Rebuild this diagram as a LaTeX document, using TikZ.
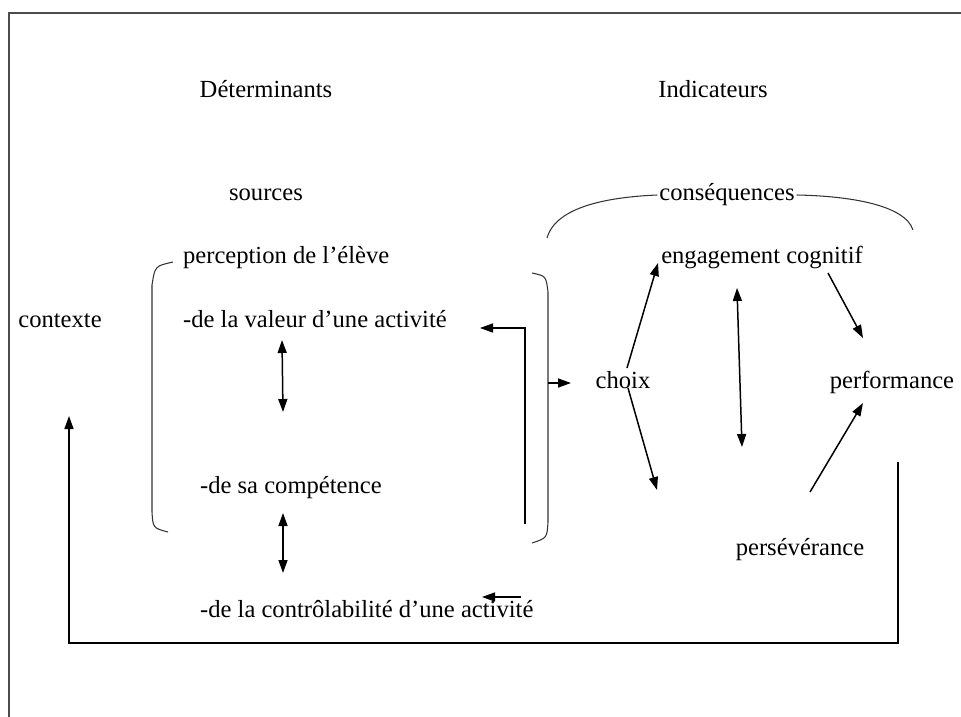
\documentclass[tikz,border=0pt]{standalone}
\usepackage{fontspec}
\setmainfont{Liberation Serif}
\usetikzlibrary{arrows.meta}

\begin{document}
\begin{tikzpicture}[x=0.02cm, y=-0.02cm,
	every node/.style={font=\fontsize{14}{16}\selectfont, inner sep=1pt, text height=1.6ex, text depth=.3ex},
	arr/.style={line width=0.85pt, -{Triangle[length=2.6mm,width=1.8mm]}},
	darr/.style={line width=0.85pt, {Triangle[length=2.6mm,width=1.8mm]}-{Triangle[length=2.6mm,width=1.8mm]}},
	brace/.style={line width=0.6pt, black!80},
	frame/.style={line width=1pt, black!70}]
	\useasboundingbox (0,0) rectangle (961,717);
	\draw[frame] (9,717) -- (9,13) -- (961,13);

	\node (det) at (266,92) {Déterminants};
	\node (ind) at (713,92) {Indicateurs};
	\node (src) at (266,195) {sources};
	\node (csq) at (727,195) {conséquences};

	\node[anchor=west] (perc) at (181,258) {perception de l’élève};
	\node (ctx) at (60,322) {contexte};
	\node[anchor=west] (val) at (181,322) {-de la valeur d’une activité};
	\node[anchor=west] (comp) at (198,488) {-de sa compétence};
	\node[anchor=west] (ctrl) at (198,612) {-de la contrôlabilité d’une activité};

	\node (choix) at (623,383) {choix};
	\node (eng) at (762,258) {engagement cognitif};
	\node (perf) at (892,383) {performance};
	\node (pers) at (800,550) {persévérance};

	% brackets
	\draw[brace] (173,262) .. controls (155,266) .. (152,285) -- (152,512) .. controls (153,528) .. (168,532);
	\draw[brace] (532,273) .. controls (546,276) .. (548,292) -- (548,522) .. controls (547,538) .. (532,543);
	\draw[brace] (547,238) .. controls (556,206) and (610,197) .. (csq.west);
	\draw[brace] (csq.east) .. controls (850,196) and (905,205) .. (913,230);

	% free ends
	\coordinate (v1) at (282,340);
	\coordinate (v2) at (283,412);
	\coordinate (c1) at (283,513);
	\coordinate (c2) at (283,573);
	\coordinate (k1) at (521,597);
	\coordinate (k2) at (482,597);
	\coordinate (r1) at (525,524);
	\coordinate (r2) at (480,328);
	\coordinate (b1) at (548,383);
	\coordinate (b2) at (571,383);
	\coordinate (ch1) at (627,368);
	\coordinate (ch2) at (628,388);
	\coordinate (e1) at (658,263);
	\coordinate (p1) at (657,490);
	\coordinate (m1) at (737,288);
	\coordinate (m2) at (742,447);
	\coordinate (e2) at (828,273);
	\coordinate (f1) at (863,338);
	\coordinate (s1) at (810,492);
	\coordinate (f2) at (863,403);
	\coordinate (fb1) at (898,462);
	\coordinate (fb2) at (69,416);

	\path[darr] (v1) edge (v2);
	\path[darr] (c1) edge (c2);
	\path[arr] (k1) edge (k2);
	\draw[arr] (r1) |- (r2);
	\path[arr] (b1) edge (b2);

	\path[arr] (ch1) edge (e1);
	\path[arr] (ch2) edge (p1);
	\path[darr] (m1) edge (m2);
	\path[arr] (e2) edge (f1);
	\path[arr] (s1) edge (f2);

	\draw[arr] (fb1) -- ++(0,181) -| (fb2);

\end{tikzpicture}
\end{document}
